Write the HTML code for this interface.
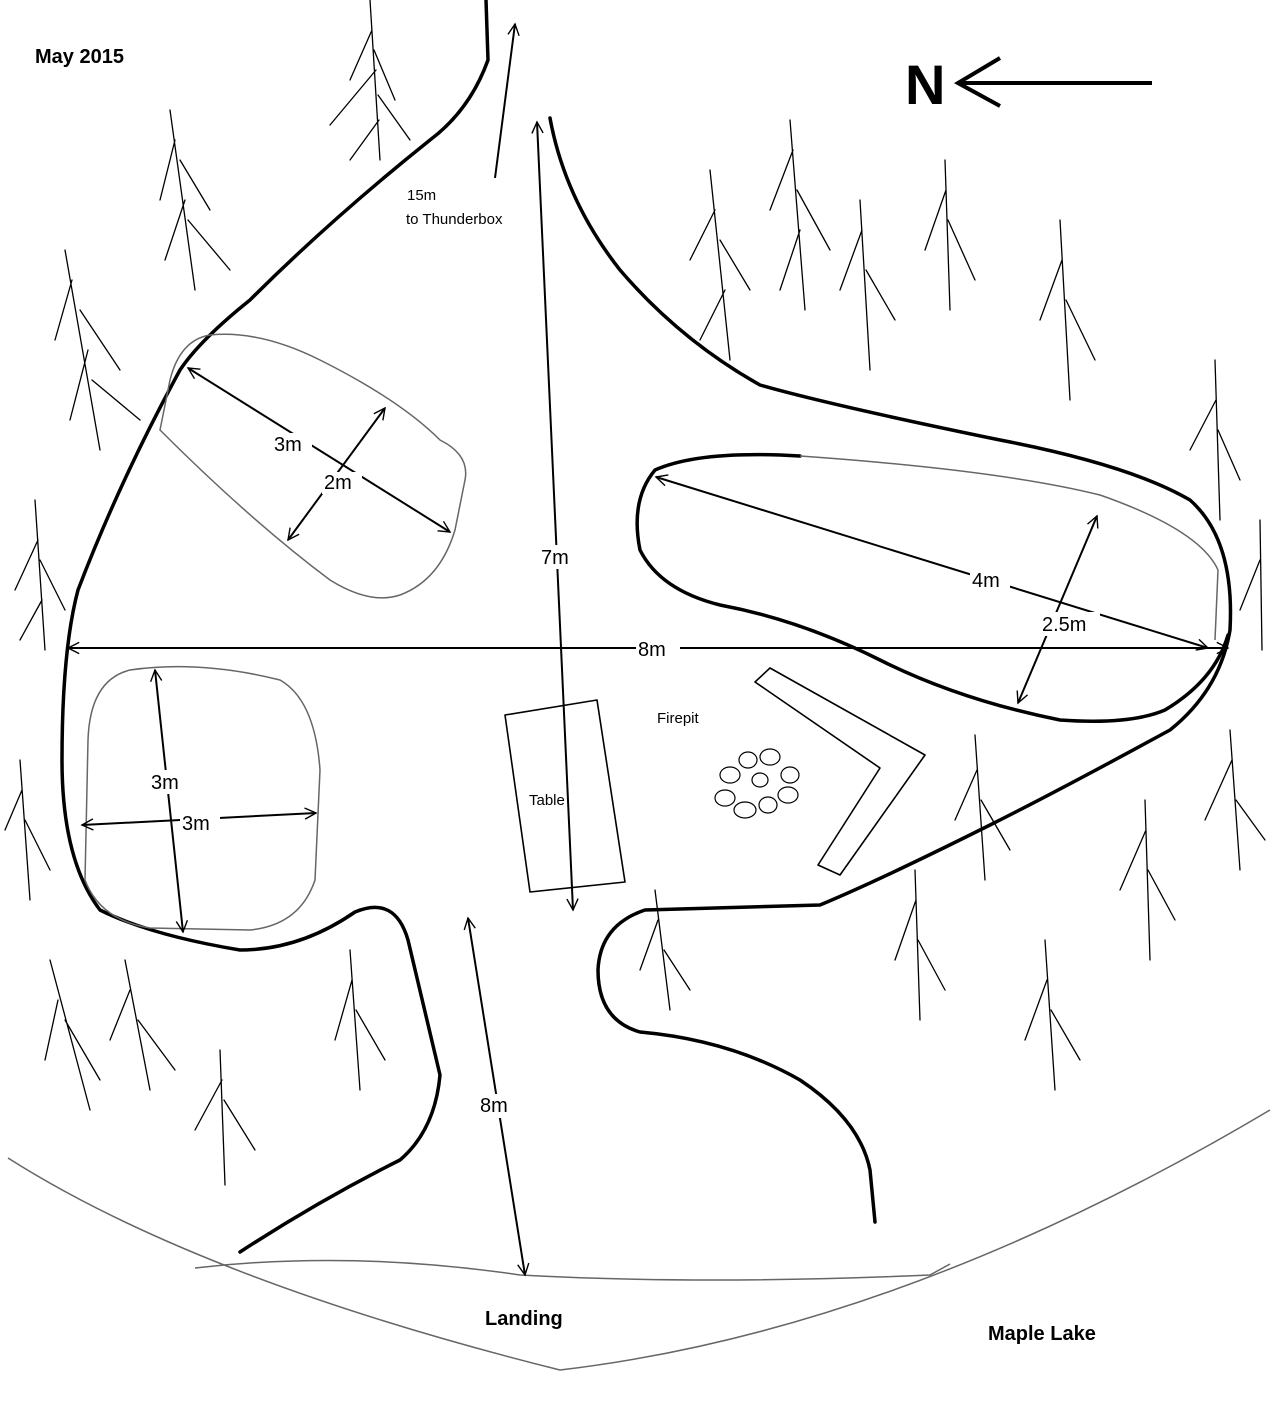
<!DOCTYPE html>
<html><head><meta charset="utf-8"><style>
html,body{margin:0;padding:0;background:#fff;}
svg{display:block;}
text{font-family:"Liberation Sans",sans-serif;fill:#000;}
</style></head><body>
<svg width="1280" height="1407" viewBox="0 0 1280 1407" xmlns="http://www.w3.org/2000/svg">
<defs>
<marker id="a" viewBox="0 0 20 20" refX="18" refY="10" markerWidth="14" markerHeight="14" orient="auto-start-reverse" markerUnits="userSpaceOnUse">
<path d="M2,2 L18,10 L2,18" fill="none" stroke="#000" stroke-width="2"/>
</marker>
</defs>
<rect width="1280" height="1407" fill="#fff"/>
<text x="35" y="63" font-size="20" font-weight="bold">May 2015</text>
<text x="905" y="104" font-size="56" font-weight="bold">N</text>
<line x1="1152" y1="83" x2="958" y2="83" stroke="#000" stroke-width="4"/>
<path d="M1000,58 L958,83 L1000,106" fill="none" stroke="#000" stroke-width="4"/>

<g fill="none" stroke="#000" stroke-width="3.5" stroke-linejoin="round" stroke-linecap="round">
<path d="M486,0 L488,60 Q470,110 430,140 Q330,220 250,300 Q200,340 180,370 Q120,480 78,590 Q62,650 62,760 Q62,860 100,910 Q150,935 240,950 Q300,950 355,912 Q395,895 408,940 L440,1075 Q435,1130 400,1160 Q320,1200 240,1252"/>
<path d="M550,118 Q565,200 620,270 Q680,340 760,385 Q830,405 1000,440 Q1130,465 1190,500 Q1235,540 1230,630 Q1220,690 1170,730 Q1060,790 990,825 Q880,880 820,905 L645,910 Q600,925 598,970 Q598,1020 640,1032 Q730,1040 800,1080 Q860,1120 870,1170 L875,1222"/>
<path d="M800,456 Q700,450 655,470 Q630,500 640,550 Q660,590 720,605 Q800,620 880,660 Q960,700 1060,720 Q1130,725 1165,710 Q1215,680 1228,635"/>
</g>

<g fill="none" stroke="#666" stroke-width="1.5">
<path d="M210,335 Q180,340 170,380 L160,430 Q250,520 330,580 Q370,605 400,595 Q440,580 455,530 L465,480 Q470,455 440,440 Q400,400 320,360 Q260,330 210,335 Z"/>
<path d="M130,670 Q90,680 88,740 L85,880 Q100,920 150,928 L250,930 Q300,925 315,880 L320,770 Q315,700 280,680 Q200,660 130,670 Z"/>
<path d="M800,456 Q1000,470 1100,495 Q1200,530 1218,570 L1215,640"/>
<path d="M195,1268 Q350,1250 520,1275 Q700,1285 930,1275 L950,1264"/>
<path d="M8,1158 Q200,1280 560,1370 Q900,1330 1270,1110"/>
</g>

<g fill="none" stroke="#000" stroke-width="1.6" stroke-linejoin="round">
<path d="M505,715 L597,700 L625,882 L530,892 Z"/>
<path d="M755,682 L770,668 L925,755 L840,875 L818,865 L880,768 Z"/>
<g stroke-width="1.2">
<ellipse cx="730" cy="775" rx="10" ry="8"/><ellipse cx="748" cy="760" rx="9" ry="8"/><ellipse cx="770" cy="757" rx="10" ry="8"/>
<ellipse cx="790" cy="775" rx="9" ry="8"/><ellipse cx="788" cy="795" rx="10" ry="8"/><ellipse cx="768" cy="805" rx="9" ry="8"/>
<ellipse cx="745" cy="810" rx="11" ry="8"/><ellipse cx="725" cy="798" rx="10" ry="8"/><ellipse cx="760" cy="780" rx="8" ry="7"/>
</g>
</g>

<g stroke="#000" stroke-width="2" fill="none">
<line x1="495" y1="178" x2="515" y2="24" marker-end="url(#a)"/>
<line x1="537" y1="122" x2="573" y2="910" marker-start="url(#a)" marker-end="url(#a)"/>
<line x1="68" y1="648" x2="1228" y2="648" marker-start="url(#a)" marker-end="url(#a)"/>
<line x1="188" y1="368" x2="450" y2="532" marker-start="url(#a)" marker-end="url(#a)"/>
<line x1="385" y1="408" x2="288" y2="540" marker-start="url(#a)" marker-end="url(#a)"/>
<line x1="656" y1="477" x2="1208" y2="648" marker-start="url(#a)" marker-end="url(#a)"/>
<line x1="1097" y1="516" x2="1018" y2="703" marker-start="url(#a)" marker-end="url(#a)"/>
<line x1="155" y1="670" x2="183" y2="932" marker-start="url(#a)" marker-end="url(#a)"/>
<line x1="82" y1="825" x2="316" y2="813" marker-start="url(#a)" marker-end="url(#a)"/>
<line x1="468" y1="918" x2="525" y2="1275" marker-start="url(#a)" marker-end="url(#a)"/>
</g>

<g font-size="20">
<rect x="272" y="433" width="40" height="22" fill="#fff"/><text x="274" y="451">3m</text>
<rect x="322" y="472" width="40" height="22" fill="#fff"/><text x="324" y="489">2m</text>
<rect x="540" y="545" width="40" height="24" fill="#fff"/><text x="541" y="564">7m</text>
<rect x="636" y="638" width="44" height="22" fill="#fff"/><text x="638" y="656">8m</text>
<rect x="970" y="568" width="40" height="24" fill="#fff"/><text x="972" y="587">4m</text>
<rect x="1040" y="612" width="60" height="24" fill="#fff"/><text x="1042" y="631">2.5m</text>
<rect x="150" y="770" width="40" height="24" fill="#fff"/><text x="151" y="789">3m</text>
<rect x="180" y="812" width="40" height="22" fill="#fff"/><text x="182" y="830">3m</text>
<rect x="478" y="1094" width="40" height="24" fill="#fff"/><text x="480" y="1112">8m</text>
<text x="485" y="1325" font-weight="bold">Landing</text>
<text x="988" y="1340" font-weight="bold">Maple Lake</text>
</g>
<g font-size="15">
<text x="407" y="200">15m</text>
<text x="406" y="224">to Thunderbox</text>
<text x="529" y="805">Table</text>
<text x="657" y="723">Firepit</text>
</g>

<g stroke="#000" stroke-width="1.3" fill="none" stroke-linecap="round">
<path d="M370,0 L380,160 M372,30 L350,80 M374,50 L395,100 M376,70 L330,125 M378,95 L410,140 M379,120 L350,160"/>
<path d="M170,110 L195,290 M175,140 L160,200 M180,160 L210,210 M185,200 L165,260 M188,220 L230,270"/>
<path d="M65,250 L100,450 M72,280 L55,340 M80,310 L120,370 M88,350 L70,420 M92,380 L140,420"/>
<path d="M35,500 L45,650 M38,540 L15,590 M40,560 L65,610 M42,600 L20,640"/>
<path d="M20,760 L30,900 M22,790 L5,830 M25,820 L50,870"/>
<path d="M50,960 L90,1110 M58,1000 L45,1060 M65,1020 L100,1080"/>
<path d="M125,960 L150,1090 M130,990 L110,1040 M138,1020 L175,1070"/>
<path d="M220,1050 L225,1185 M222,1080 L195,1130 M224,1100 L255,1150"/>
<path d="M350,950 L360,1090 M352,980 L335,1040 M356,1010 L385,1060"/>
<path d="M710,170 L730,360 M715,210 L690,260 M720,240 L750,290 M725,290 L700,340"/>
<path d="M790,120 L805,310 M793,150 L770,210 M797,190 L830,250 M800,230 L780,290"/>
<path d="M860,200 L870,370 M862,230 L840,290 M866,270 L895,320"/>
<path d="M945,160 L950,310 M946,190 L925,250 M948,220 L975,280"/>
<path d="M1060,220 L1070,400 M1062,260 L1040,320 M1066,300 L1095,360"/>
<path d="M1215,360 L1220,520 M1216,400 L1190,450 M1218,430 L1240,480"/>
<path d="M1260,520 L1262,650 M1260,560 L1240,610"/>
<path d="M1230,730 L1240,870 M1232,760 L1205,820 M1236,800 L1265,840"/>
<path d="M1145,800 L1150,960 M1146,830 L1120,890 M1148,870 L1175,920"/>
<path d="M975,735 L985,880 M977,770 L955,820 M981,800 L1010,850"/>
<path d="M915,870 L920,1020 M916,900 L895,960 M918,940 L945,990"/>
<path d="M1045,940 L1055,1090 M1047,980 L1025,1040 M1051,1010 L1080,1060"/>
<path d="M655,890 L670,1010 M658,920 L640,970 M664,950 L690,990"/>
</g>
</svg>
</body></html>
